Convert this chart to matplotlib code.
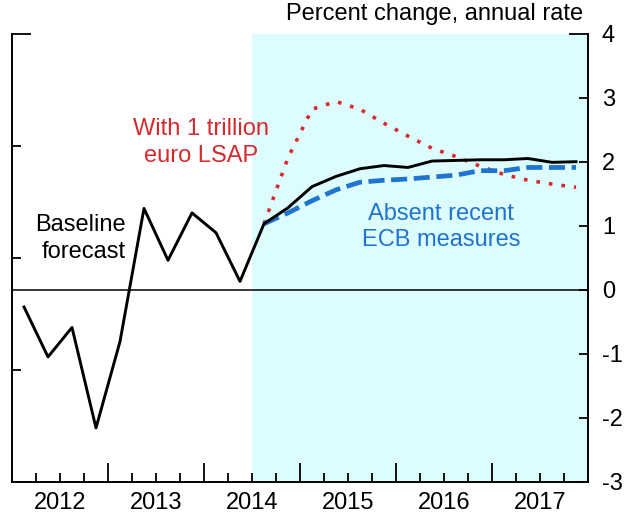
#!/usr/bin/env python3

import numpy as np
import matplotlib
matplotlib.use('Agg')
from matplotlib import pyplot as plt
from matplotlib import transforms

plt.rcParams['font.family'] = ['Liberation Sans', 'DejaVu Sans']

# quarterly data, 2012Q1 .. 2017Q4
quarters = ['%dQ%d' % (y, q) for y in range(2012, 2018) for q in range(1, 5)]
baseline = [-0.27, -1.05, -0.59, -2.16, -0.81, 1.27, 0.46, 1.20, 0.89, 0.13,
            1.03, 1.28, 1.61, 1.77, 1.89, 1.94, 1.91, 2.01, 2.02, 2.03,
            2.03, 2.05, 1.99, 2.00]
# alternative scenarios, 2014Q3 .. 2017Q4
lsap = [1.03, 2.06, 2.82, 2.94, 2.82, 2.60, 2.40, 2.21, 2.08, 1.93,
        1.80, 1.71, 1.65, 1.60]
absent = [1.03, 1.20, 1.39, 1.56, 1.68, 1.71, 1.73, 1.76, 1.79, 1.86,
          1.86, 1.91, 1.91, 1.91]
year_labels = ['2012', '2013', '2014', '2015', '2016', '2017']
forecast_start = '2014Q3'


def qpos(q):
    # middle of the quarter, in decimal years
    return int(q[:4]) + (int(q[-1]) - 0.5) / 4


x = np.array([qpos(q) for q in quarters])
i0 = quarters.index(forecast_start)
xf = x[i0:]

fig = plt.figure(figsize=(6.37, 5.18), dpi=100)
ax = fig.add_axes([12/637, 36.3/518, 576/637, 448/518])
# left axis: unlabeled ticks (twinx first, it moves ax ticks to the left)
ax2 = ax.twinx()

ax.axvspan(2014.5, 2018, color='#dcfcfd', lw=0, zorder=0)
ax.axhline(0, color='black', lw=1.1, zorder=1)

ax.plot(xf, lsap, color='#d62a2e', lw=2.6, dashes=(1, 2.5), zorder=2)
ax.plot(xf, absent, color='#1f74cf', lw=3.4, dashes=(3.4, 1.4), zorder=3)
ax.plot(x, baseline, color='black', lw=2.1, zorder=4)

ax.set_xlim(2012, 2018)
ax.set_ylim(-3, 4)

ax.spines['top'].set_visible(False)
for s in ['left', 'right', 'bottom']:
    ax.spines[s].set_linewidth(1.4)

# x axis: long ticks at years, short ticks at quarters
ax.set_xticks(np.arange(2013, 2018))
ax.set_xticklabels([])
ax.set_xticks([qpos(q) - 0.125 for q in quarters if not q.endswith('Q1')],
              minor=True)
ax.tick_params(axis='x', which='major', direction='in', length=13.5,
               width=1.3)
ax.tick_params(axis='x', which='minor', direction='in', length=6.5,
               width=1.3)
trans = transforms.blended_transform_factory(ax.transData, ax.transAxes)
for i, lab in enumerate(year_labels):
    ax.text(2012.5 + i, -0.047, lab, transform=trans, ha='center',
            va='center', fontsize=17)

# right axis: percent change
ax.yaxis.tick_right()
ax.set_yticks([4])
ax.set_yticks(np.arange(-3, 4), minor=True)
ax.set_yticklabels(['4'])
ax.set_yticklabels([str(v) for v in range(-3, 4)], minor=True)
ax.tick_params(axis='y', which='both', direction='in', width=1.3, pad=10,
               labelsize=17, left=False, labelleft=False, right=True,
               labelright=True)
ax.tick_params(axis='y', which='major', length=13.5)
ax.tick_params(axis='y', which='minor', length=6.5)

ax2.set_ylim(0, 4)
ax2.set_yticks([4])
ax2.set_yticks([1, 2, 3], minor=True)
ax2.tick_params(axis='y', which='both', direction='in', width=1.3,
                left=True, labelleft=False, right=False, labelright=False)
ax2.tick_params(axis='y', which='major', length=13.5)
ax2.tick_params(axis='y', which='minor', length=6.5)
for s in ax2.spines.values():
    s.set_visible(False)

fig.text(583/637, 1 - 14/518, 'Percent change, annual rate', ha='right',
         va='center', fontsize=17)
ax.text(2013.18, 0.8, 'Baseline\nforecast', ha='right', va='center',
        fontsize=17, linespacing=1.25)
ax.text(2013.97, 2.3, 'With 1 trillion\neuro LSAP', ha='center',
        va='center', color='#d62a2e', fontsize=17, linespacing=1.3)
ax.text(2016.47, 0.98, 'Absent recent\nECB measures', ha='center',
        va='center', color='#1f74cf', fontsize=17, linespacing=1.25)

plt.savefig('out.png', dpi=100)
